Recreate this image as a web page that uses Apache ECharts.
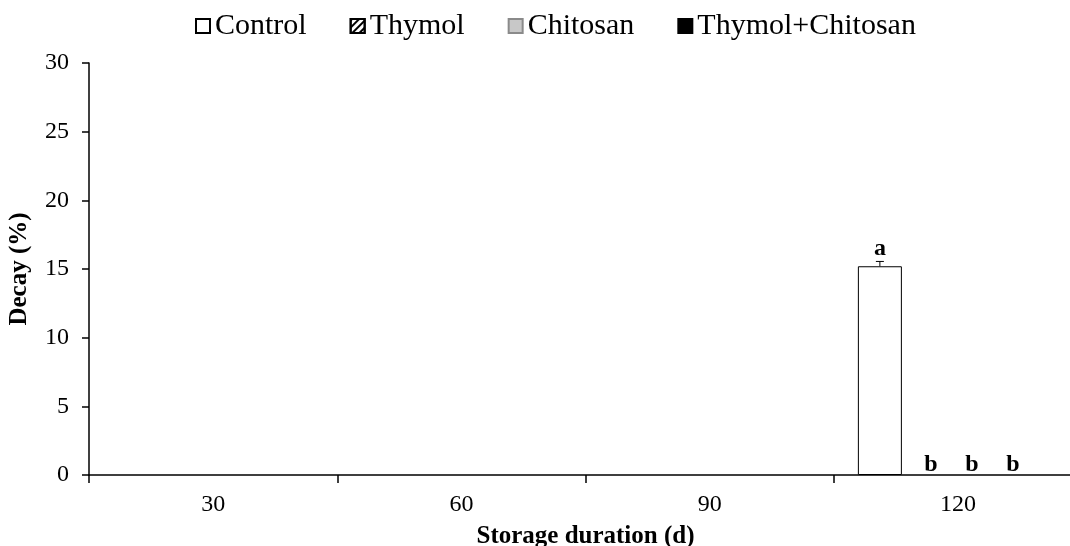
<!DOCTYPE html>
<html>
<head>
<meta charset="utf-8">
<script src="https://cdn.jsdelivr.net/npm/echarts@6/dist/echarts.min.js"></script>
<style>html,body{margin:0;padding:0;background:#fff;}#c{width:1070px;height:546px;}</style>
</head>
<body>
<div id="c"></div>
<script>
const categories = ['30', '60', '90', '120'];
const seriesNames = ['Control', 'Thymol', 'Chitosan', 'Thymol+Chitosan'];
const control = [0, 0, 0, 15.2];
const thymol = [0, 0, 0, 0];
const chitosan = [0, 0, 0, 0];
const thymolChitosan = [0, 0, 0, 0];
const controlErr = [0, 0, 0, 0.35];
const thymolErr = [0, 0, 0, 0];
const chitosanErr = [0, 0, 0, 0];
const thymolChitosanErr = [0, 0, 0, 0];
const controlLetters = ['', '', '', 'a'];
const thymolLetters = ['', '', '', 'b'];
const chitosanLetters = ['', '', '', 'b'];
const thymolChitosanLetters = ['', '', '', 'b'];
const yTicks = [0, 5, 10, 15, 20, 25, 30];

const values = [control, thymol, chitosan, thymolChitosan];
const errs = [controlErr, thymolErr, chitosanErr, thymolChitosanErr];
const letters = [controlLetters, thymolLetters, chitosanLetters, thymolChitosanLetters];

const SERIF = '"Liberation Serif","Times New Roman",serif';
const BAR_W = 44;
const BAR_GAP = 8 / 44;
const STEP = BAR_W * (1 + BAR_GAP);
const letterShift = [0, -1, -12, -23];

const styles = [
  { color: '#ffffff', borderColor: '#000', borderWidth: 1 },
  { color: '#ffffff', borderColor: '#000', borderWidth: 1.5,
    decal: { symbol: 'rect', symbolSize: 1, dashArrayX: [1, 0], dashArrayY: [1.5, 2.5], rotation: -Math.PI / 4, color: '#000' } },
  { color: '#c8c8c8', borderColor: '#8a8a8a', borderWidth: 1 },
  { color: '#000000', borderColor: '#000', borderWidth: 1 }
];

const errData = [];
values.forEach((vals, g) => {
  vals.forEach((v, i) => {
    errData.push([i, v, errs[g][i], g]);
  });
});

const series = seriesNames.map((name, g) => ({
  name: name,
  type: 'bar',
  data: values[g].map(v => ({ value: v, itemStyle: v > 0 ? {} : { opacity: 0 } })),
  barWidth: BAR_W,
  barGap: (BAR_GAP * 100) + '%',
  itemStyle: styles[g],
  emphasis: { disabled: true }
}));

series.push({
  type: 'custom',
  silent: true,
  data: errData,
  encode: { x: 0, y: 1 },
  z: 10,
  renderItem: function (params, api) {
    const i = api.value(0);
    const v = api.value(1);
    const e = api.value(2);
    const g = api.value(3);
    const letter = letters[g][i];
    const dx = (g - 1.5) * STEP;
    const base = api.coord([i, v]);
    const top = api.coord([i, v + e]);
    const x = base[0] + dx;
    const children = [];
    if (e > 0) {
      children.push({ type: 'line', shape: { x1: x, y1: base[1], x2: x, y2: top[1] }, style: { stroke: '#000', lineWidth: 1 } });
      children.push({ type: 'line', shape: { x1: x - 4, y1: top[1], x2: x + 4, y2: top[1] }, style: { stroke: '#000', lineWidth: 1 } });
    }
    if (letter) {
      children.push({ type: 'text', x: x + letterShift[g], y: top[1] + (e > 0 ? -1 : 2),
        style: { text: letter, textAlign: 'center', textVerticalAlign: 'bottom', font: 'bold 24px ' + SERIF, fill: '#000' } });
    }
    return { type: 'group', children: children };
  }
});

const chart = echarts.init(document.getElementById('c'), null, { renderer: 'canvas' });
chart.setOption({
  animation: false,
  backgroundColor: '#fff',
  legend: {
    top: 6,
    left: 190,
    data: seriesNames,
    itemWidth: 14,
    itemHeight: 14,
    itemGap: 43,
    icon: 'rect',
    textStyle: { fontFamily: SERIF, fontSize: 30, color: '#000' }
  },
  grid: { left: 89, top: 63, right: -12, bottom: 71, containLabel: false, outerBoundsMode: 'none' },
  xAxis: {
    type: 'category',
    data: categories,
    name: 'Storage duration (d)',
    nameLocation: 'middle',
    nameGap: 49,
    nameTextStyle: { fontFamily: SERIF, fontSize: 25, fontWeight: 'bold', color: '#000' },
    axisLine: { lineStyle: { color: '#000', width: 1.5 } },
    axisTick: { show: true, length: 8, lineStyle: { color: '#000', width: 1.5 }, alignWithLabel: false },
    axisLabel: { fontFamily: SERIF, fontSize: 24, color: '#000', margin: 18 },
    splitLine: { show: false }
  },
  yAxis: {
    type: 'value',
    min: 0,
    max: 30,
    interval: 5,
    name: 'Decay (%)',
    nameLocation: 'middle',
    nameGap: 57,
    nameRotate: 90,
    nameTextStyle: { fontFamily: SERIF, fontSize: 25, fontWeight: 'bold', color: '#000' },
    axisLine: { show: true, lineStyle: { color: '#000', width: 1.5 } },
    axisTick: { show: true, length: 7, lineStyle: { color: '#000', width: 1.5 } },
    axisLabel: { fontFamily: SERIF, fontSize: 24, color: '#000', margin: 20,
      formatter: function (v) { return yTicks.indexOf(v) >= 0 ? String(v) : ''; } },
    splitLine: { show: false }
  },
  series: series
});
</script>
</body>
</html>
